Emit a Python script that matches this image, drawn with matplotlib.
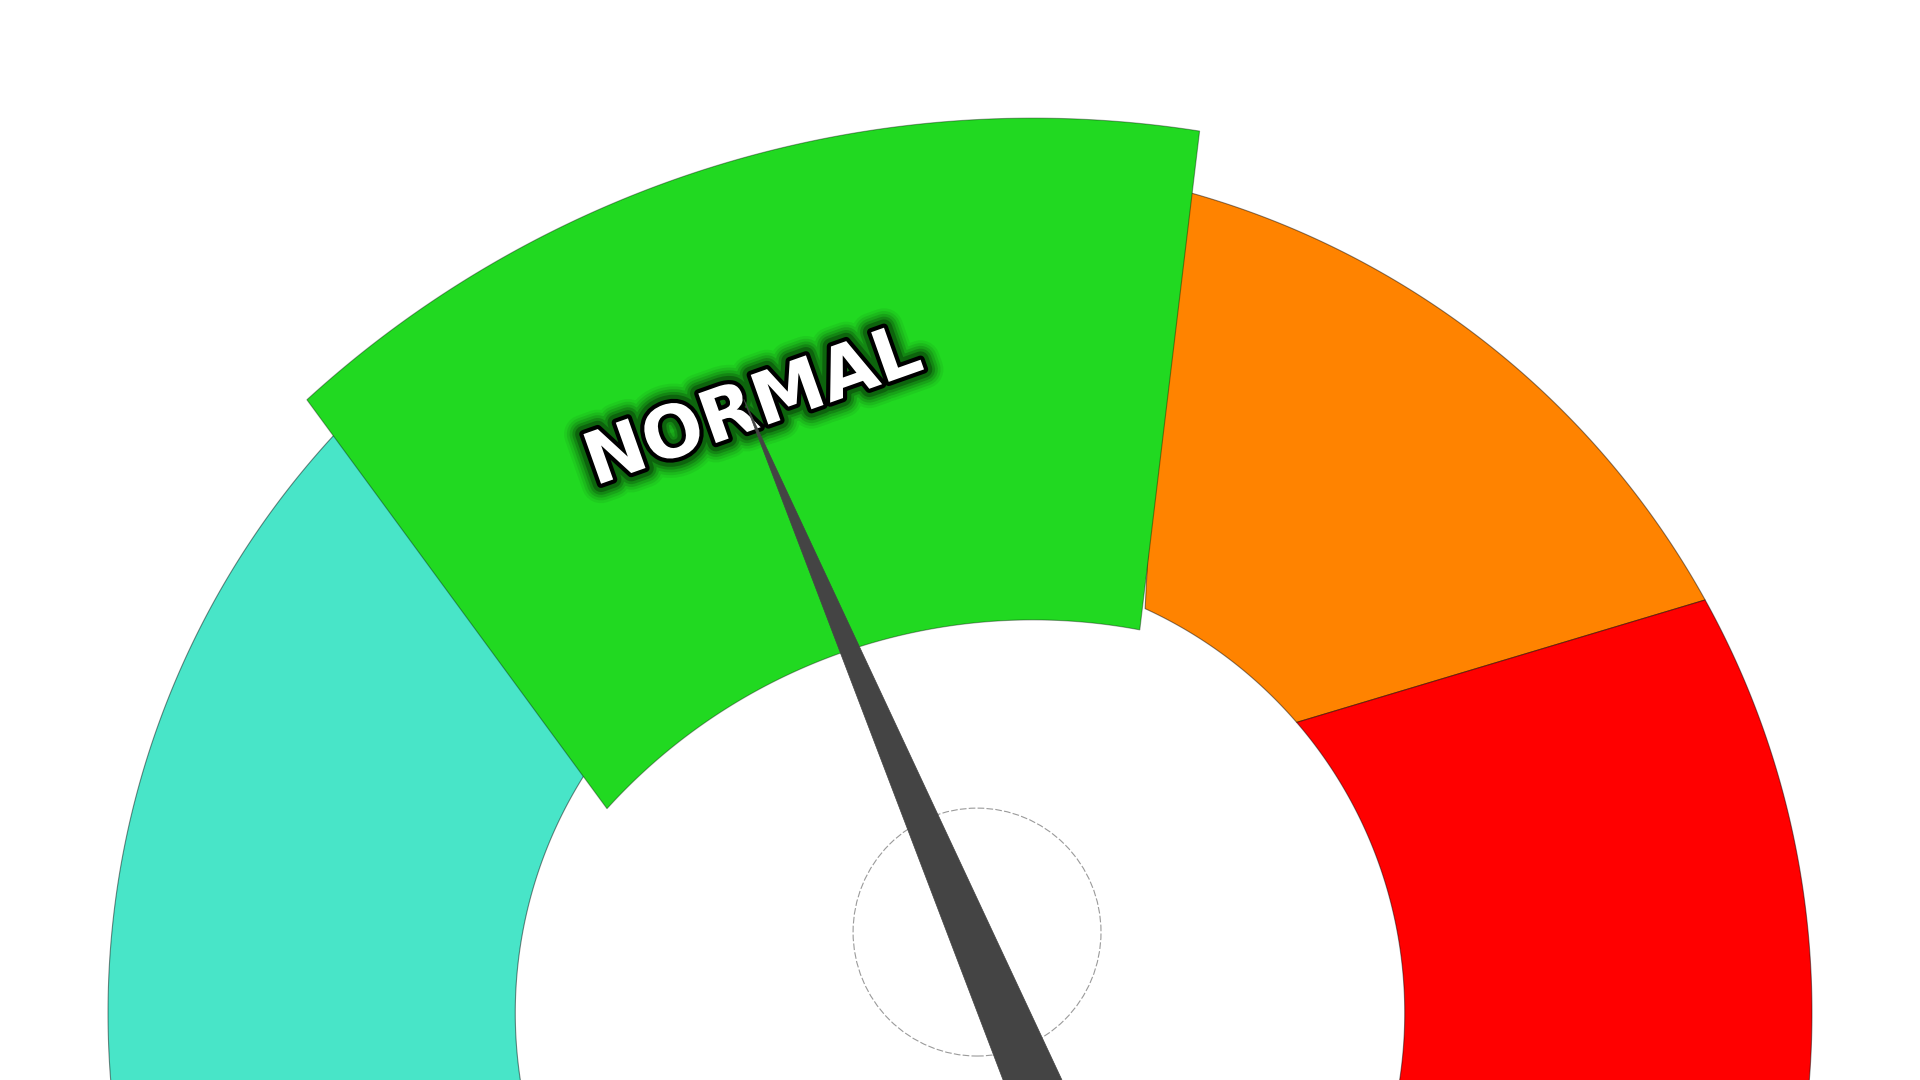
import numpy as np
import matplotlib
matplotlib.use("Agg")
import matplotlib.pyplot as plt
from matplotlib.patches import Polygon, Circle
import matplotlib.patheffects as pe

# ── Gauge data (angles in degrees, CCW from +x, gauge outer radius = 1) ──────
band_colors = ["#48E5C8", "#FF8300", "#FF0000"]
band_outer = [(200.0, 135.0), (76.0, 29.0), (29.0, -20.0)]   # start/end on outer arc
band_inner = [(200.0, 146.8), (65.4, 40.8), (40.8, -20.0)]   # start/end on inner arc

# highlighted (pulled out) band
hl_label = "NORMAL"
hl_color = "#21D921"
hl_outer = (132.4, 81.1)
hl_inner = (137.8, 79.3)

needle_angle = 112.95   # deg

# ── Geometry ─────────────────────────────────────────────────────────────────
R_OUT, R_IN = 1.0, 0.522
HL_CENTER = (0.0857, -0.2136)
HL_R_OUT, HL_R_IN = 1.264, 0.675
HUB_CENTER, HUB_R = (0.020, 0.095), 0.1455
NEEDLE_PIVOT, NEEDLE_LEN, NEEDLE_HW = (0.158, -0.252), 1.056, 0.0387


def ring_poly(center, r_out, r_in, outer, inner, n=300):
    a_o = np.radians(np.linspace(outer[0], outer[1], n))
    a_i = np.radians(np.linspace(inner[1], inner[0], n))
    xs = np.concatenate([center[0] + r_out * np.cos(a_o), center[0] + r_in * np.cos(a_i)])
    ys = np.concatenate([center[1] + r_out * np.sin(a_o), center[1] + r_in * np.sin(a_i)])
    return np.column_stack([xs, ys])


fig = plt.figure(figsize=(19.2, 10.8), dpi=100)
ax = fig.add_axes([0, 0, 1, 1])
ax.set_xlim(-1.1268, 1.1268)
ax.set_ylim(-0.0786, 1.1890)
ax.set_aspect("equal")
ax.axis("off")

# base bands
for col, o, i in zip(band_colors, band_outer, band_inner):
    ax.add_patch(Polygon(ring_poly((0, 0), R_OUT, R_IN, o, i), closed=True,
                         fc=col, ec=(0, 0, 0, 0.45), lw=0.8, zorder=1))

# pulled-out band
ax.add_patch(Polygon(ring_poly(HL_CENTER, HL_R_OUT, HL_R_IN, hl_outer, hl_inner),
                     closed=True, fc=hl_color, ec=(0, 0, 0, 0.35), lw=0.8, zorder=2))

# dashed hub circle
ax.add_patch(Circle(HUB_CENTER, HUB_R, fill=False, ec="#9a9a9a", lw=0.8,
                    ls=(0, (6, 2)), zorder=3))

# label with soft dark glow
glow = [pe.withStroke(linewidth=w, foreground=(0, 0.04, 0, a))
        for w, a in [(28, 0.06), (24, 0.09), (20, 0.13), (16, 0.18), (12, 0.28)]]
ax.text(-0.2420, 0.7090, hl_label, rotation=19.5, ha="center", va="center",
        rotation_mode="anchor", fontsize=52, fontweight="bold",
        family="DejaVu Sans", color="white", zorder=4,
        path_effects=glow + [pe.withStroke(linewidth=6, foreground="black")])

# needle
a = np.radians(needle_angle)
u = np.array([np.cos(a), np.sin(a)])
nrm = np.array([-np.sin(a), np.cos(a)])
piv = np.array(NEEDLE_PIVOT)
needle = np.array([piv + NEEDLE_HW * nrm, piv + NEEDLE_LEN * u, piv - NEEDLE_HW * nrm])
ax.add_patch(Polygon(needle, closed=True, fc="#444444", ec="#444444", lw=0.5, zorder=5))

fig.savefig("out.png", dpi=100, facecolor="white")
